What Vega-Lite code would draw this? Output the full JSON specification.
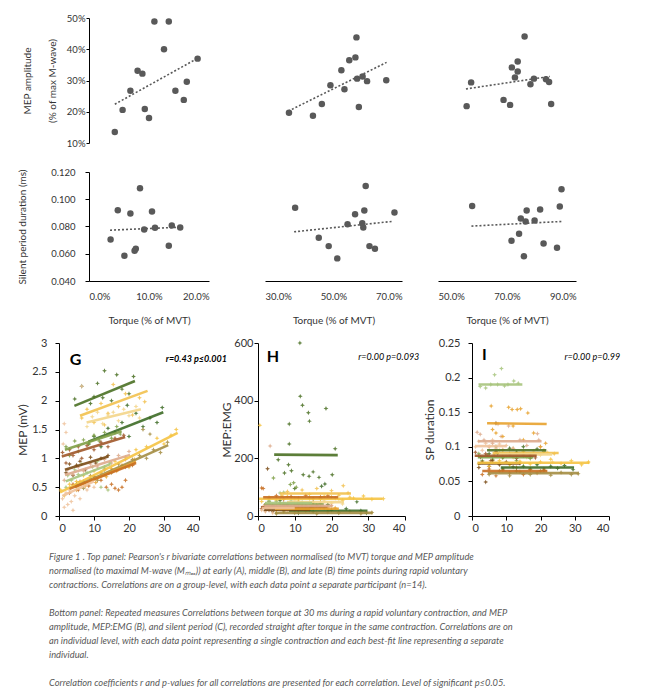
{
"$schema":"https://vega.github.io/schema/vega-lite/v6.json",
"background":"white",
"padding":{"left":10,"top":13,"right":5,"bottom":5},
"datasets":{
"notes":[
{"p":"G","k":"L","t":"G","x":3.1,"y":2.705},{"p":"G","k":"R","t":"r=0.43 p≤0.001","x":48,"y":2.73},
{"p":"H","k":"L","t":"H","x":2.4,"y":551},{"p":"H","k":"R","t":"r=0.00 p=0.093","x":43.9,"y":551},
{"p":"I","k":"L","t":"I","x":2.9,"y":0.2327},{"p":"I","k":"R","t":"r=0.00 p=0.99","x":43.3,"y":0.2298}
],
"top":[
{"p":"A","x":0.043,"y":0.135},{"p":"A","x":0.056,"y":0.206},{"p":"A","x":0.069,"y":0.267},{"p":"A","x":0.081,"y":0.331},{"p":"A","x":0.089,"y":0.322},{"p":"A","x":0.093,"y":0.209},{"p":"A","x":0.100,"y":0.180},{"p":"A","x":0.109,"y":0.489},{"p":"A","x":0.125,"y":0.400},{"p":"A","x":0.133,"y":0.489},{"p":"A","x":0.144,"y":0.267},{"p":"A","x":0.158,"y":0.238},{"p":"A","x":0.163,"y":0.296},{"p":"A","x":0.181,"y":0.370},
{"p":"B","x":0.370,"y":0.197},{"p":"B","x":0.440,"y":0.187},{"p":"B","x":0.466,"y":0.225},{"p":"B","x":0.491,"y":0.285},{"p":"B","x":0.523,"y":0.333},{"p":"B","x":0.532,"y":0.272},{"p":"B","x":0.546,"y":0.365},{"p":"B","x":0.564,"y":0.374},{"p":"B","x":0.567,"y":0.438},{"p":"B","x":0.569,"y":0.306},{"p":"B","x":0.574,"y":0.215},{"p":"B","x":0.585,"y":0.313},{"p":"B","x":0.598,"y":0.298},{"p":"B","x":0.654,"y":0.301},
{"p":"C","x":0.583,"y":0.218},{"p":"C","x":0.596,"y":0.294},{"p":"C","x":0.690,"y":0.238},{"p":"C","x":0.709,"y":0.222},{"p":"C","x":0.714,"y":0.342},{"p":"C","x":0.723,"y":0.310},{"p":"C","x":0.731,"y":0.361},{"p":"C","x":0.731,"y":0.329},{"p":"C","x":0.751,"y":0.441},{"p":"C","x":0.768,"y":0.288},{"p":"C","x":0.778,"y":0.306},{"p":"C","x":0.813,"y":0.304},{"p":"C","x":0.822,"y":0.295},{"p":"C","x":0.828,"y":0.225},
{"p":"D","x":0.036,"y":0.0705},{"p":"D","x":0.048,"y":0.0920},{"p":"D","x":0.059,"y":0.0585},{"p":"D","x":0.069,"y":0.0895},{"p":"D","x":0.076,"y":0.0622},{"p":"D","x":0.078,"y":0.0636},{"p":"D","x":0.085,"y":0.1081},{"p":"D","x":0.092,"y":0.0778},{"p":"D","x":0.105,"y":0.0910},{"p":"D","x":0.110,"y":0.0790},{"p":"D","x":0.133,"y":0.0658},{"p":"D","x":0.138,"y":0.0808},{"p":"D","x":0.152,"y":0.0793},
{"p":"E","x":0.388,"y":0.0937},{"p":"E","x":0.457,"y":0.0717},{"p":"E","x":0.486,"y":0.0656},{"p":"E","x":0.511,"y":0.0566},{"p":"E","x":0.541,"y":0.0817},{"p":"E","x":0.563,"y":0.0890},{"p":"E","x":0.584,"y":0.0824},{"p":"E","x":0.587,"y":0.0793},{"p":"E","x":0.590,"y":0.0917},{"p":"E","x":0.594,"y":0.1098},{"p":"E","x":0.605,"y":0.0656},{"p":"E","x":0.621,"y":0.0636},{"p":"E","x":0.678,"y":0.0903},
{"p":"F","x":0.599,"y":0.0951},{"p":"F","x":0.713,"y":0.0695},{"p":"F","x":0.735,"y":0.0746},{"p":"F","x":0.740,"y":0.0859},{"p":"F","x":0.749,"y":0.0581},{"p":"F","x":0.754,"y":0.0837},{"p":"F","x":0.757,"y":0.0917},{"p":"F","x":0.780,"y":0.0844},{"p":"F","x":0.796,"y":0.0925},{"p":"F","x":0.806,"y":0.0676},{"p":"F","x":0.845,"y":0.0644},{"p":"F","x":0.853,"y":0.0947},{"p":"F","x":0.858,"y":0.1073}
],
"trend":[
{"p":"A","x":0.043,"y":0.224,"x2":0.181,"y2":0.371},
{"p":"B","x":0.368,"y":0.202,"x2":0.655,"y2":0.358},
{"p":"C","x":0.581,"y":0.273,"x2":0.824,"y2":0.313},
{"p":"D","x":0.035,"y":0.0773,"x2":0.152,"y2":0.0795},
{"p":"E","x":0.385,"y":0.0761,"x2":0.670,"y2":0.0837},
{"p":"F","x":0.597,"y":0.0803,"x2":0.860,"y2":0.0837}
],
"G":[
{"i":1,"x":4.5,"y":2.03},{"i":1,"x":6.5,"y":2.25},{"i":1,"x":9,"y":1.95},{"i":1,"x":11,"y":2.3},{"i":1,"x":12.5,"y":2.05},{"i":1,"x":13,"y":2.52},{"i":1,"x":15,"y":2.0},{"i":1,"x":16.5,"y":2.45},{"i":1,"x":18,"y":2.2},{"i":1,"x":20,"y":2.12},{"i":1,"x":21.3,"y":2.42},{"i":1,"x":10,"y":2.07},
{"i":2,"x":6.5,"y":1.7},{"i":2,"x":8,"y":1.85},{"i":2,"x":10,"y":1.62},{"i":2,"x":12,"y":1.95},{"i":2,"x":14,"y":1.78},{"i":2,"x":15.5,"y":2.28},{"i":2,"x":17,"y":1.9},{"i":2,"x":19,"y":2.12},{"i":2,"x":21,"y":1.75},{"i":2,"x":23,"y":2.05},{"i":2,"x":24.5,"y":1.98},{"i":2,"x":13,"y":1.58},
{"i":3,"x":8,"y":1.55},{"i":3,"x":9.5,"y":1.72},{"i":3,"x":11,"y":1.8},{"i":3,"x":12.5,"y":1.6},{"i":3,"x":14,"y":1.75},{"i":3,"x":15.5,"y":1.8},{"i":3,"x":17,"y":1.65},{"i":3,"x":18.5,"y":1.85},{"i":3,"x":20,"y":1.74},{"i":3,"x":22,"y":1.9},{"i":3,"x":23,"y":1.7},
{"i":4,"x":8.5,"y":1.25},{"i":4,"x":10,"y":1.38},{"i":4,"x":12,"y":1.2},{"i":4,"x":14,"y":1.52},{"i":4,"x":16,"y":1.45},{"i":4,"x":18,"y":1.62},{"i":4,"x":20,"y":1.38},{"i":4,"x":22,"y":1.78},{"i":4,"x":24,"y":1.55},{"i":4,"x":26,"y":1.7},{"i":4,"x":28,"y":1.62},{"i":4,"x":29.5,"y":1.88},{"i":4,"x":19.5,"y":1.92},
{"i":5,"x":2,"y":1.2},{"i":5,"x":3,"y":1.05},{"i":5,"x":4.5,"y":1.3},{"i":5,"x":5.5,"y":1.12},{"i":5,"x":7,"y":1.32},{"i":5,"x":8.5,"y":1.25},{"i":5,"x":10,"y":1.4},{"i":5,"x":11.5,"y":1.3},{"i":5,"x":13,"y":1.45},{"i":5,"x":15,"y":1.35},{"i":5,"x":16.5,"y":1.55},{"i":5,"x":17.5,"y":1.42},
{"i":6,"x":1,"y":1.1},{"i":6,"x":2,"y":0.92},{"i":6,"x":3,"y":1.15},{"i":6,"x":4,"y":1.05},{"i":6,"x":5.5,"y":1.2},{"i":6,"x":6.5,"y":1.0},{"i":6,"x":8,"y":1.22},{"i":6,"x":10,"y":1.15},{"i":6,"x":12,"y":1.28},{"i":6,"x":14,"y":1.2},{"i":6,"x":16,"y":1.35},{"i":6,"x":18.5,"y":1.4},
{"i":7,"x":2,"y":0.75},{"i":7,"x":3,"y":0.9},{"i":7,"x":4,"y":0.7},{"i":7,"x":5,"y":0.88},{"i":7,"x":6,"y":0.95},{"i":7,"x":7.5,"y":0.8},{"i":7,"x":9,"y":1.02},{"i":7,"x":10.5,"y":0.92},{"i":7,"x":12,"y":1.0},{"i":7,"x":14,"y":1.05},
{"i":8,"x":1.5,"y":0.62},{"i":8,"x":2.5,"y":0.8},{"i":8,"x":4,"y":0.72},{"i":8,"x":5.5,"y":0.85},{"i":8,"x":7,"y":0.78},{"i":8,"x":9,"y":0.9},{"i":8,"x":11,"y":0.85},{"i":8,"x":13,"y":0.98},{"i":8,"x":15,"y":0.92},{"i":8,"x":17,"y":1.05},{"i":8,"x":19,"y":0.98},{"i":8,"x":20,"y":1.12},
{"i":9,"x":0.5,"y":0.45},{"i":9,"x":1.5,"y":0.35},{"i":9,"x":3,"y":0.55},{"i":9,"x":5,"y":0.6},{"i":9,"x":7,"y":0.7},{"i":9,"x":10,"y":0.78},{"i":9,"x":13,"y":0.85},{"i":9,"x":16,"y":0.95},{"i":9,"x":19,"y":1.02},{"i":9,"x":22,"y":1.15},{"i":9,"x":25,"y":1.2},{"i":9,"x":28,"y":1.35},{"i":9,"x":30,"y":1.25},{"i":9,"x":32,"y":1.4},{"i":9,"x":33.5,"y":1.5},
{"i":10,"x":5,"y":0.55},{"i":10,"x":7,"y":0.48},{"i":10,"x":9,"y":0.7},{"i":10,"x":11,"y":0.62},{"i":10,"x":13,"y":0.8},{"i":10,"x":15,"y":0.75},{"i":10,"x":17,"y":0.9},{"i":10,"x":19,"y":0.85},{"i":10,"x":21,"y":0.98},{"i":10,"x":23,"y":1.05},{"i":10,"x":25,"y":1.0},{"i":10,"x":27,"y":1.15},{"i":10,"x":29,"y":1.1},{"i":10,"x":31,"y":1.28},{"i":10,"x":26,"y":1.42},{"i":10,"x":24,"y":1.5},
{"i":11,"x":5,"y":0.45},{"i":11,"x":6,"y":0.6},{"i":11,"x":7.5,"y":0.52},{"i":11,"x":9,"y":0.65},{"i":11,"x":10.5,"y":0.58},{"i":11,"x":12,"y":0.75},{"i":11,"x":13.5,"y":0.68},{"i":11,"x":15,"y":0.82},{"i":11,"x":16.5,"y":0.78},{"i":11,"x":18,"y":0.88},{"i":11,"x":20,"y":0.85},{"i":11,"x":21.5,"y":0.98},
{"i":12,"x":3,"y":0.4},{"i":12,"x":4,"y":0.55},{"i":12,"x":5.5,"y":0.45},{"i":12,"x":7,"y":0.6},{"i":12,"x":8.5,"y":0.52},{"i":12,"x":10,"y":0.68},{"i":12,"x":12,"y":0.62},{"i":12,"x":13.5,"y":0.5},{"i":12,"x":15,"y":0.55},{"i":12,"x":16,"y":0.48},{"i":12,"x":17,"y":0.45},{"i":12,"x":18,"y":0.5},{"i":12,"x":19,"y":0.62},{"i":12,"x":21,"y":0.88},
{"i":13,"x":2,"y":0.5},{"i":13,"x":2.5,"y":0.7},{"i":13,"x":3.5,"y":0.62},{"i":13,"x":4.5,"y":0.8},{"i":13,"x":5.5,"y":0.72},{"i":13,"x":6.5,"y":0.9},{"i":13,"x":8,"y":0.75},{"i":13,"x":9.5,"y":0.85},{"i":13,"x":11,"y":0.95},{"i":13,"x":13,"y":0.82},{"i":13,"x":14.5,"y":0.92},{"i":13,"x":12,"y":0.5},{"i":13,"x":14,"y":0.45},
{"i":14,"x":1,"y":0.3},{"i":14,"x":1.5,"y":0.15},{"i":14,"x":2,"y":0.4},{"i":14,"x":2.5,"y":0.2},{"i":14,"x":3,"y":0.45},{"i":14,"x":3.5,"y":0.25},{"i":14,"x":4,"y":0.1},{"i":14,"x":4.5,"y":0.35},{"i":14,"x":5,"y":0.5},{"i":14,"x":6,"y":0.3},{"i":14,"x":7,"y":0.55},{"i":14,"x":8,"y":0.45},{"i":14,"x":9,"y":0.62},{"i":14,"x":10,"y":0.5},{"i":14,"x":1.2,"y":1.25},{"i":14,"x":2,"y":1.45},{"i":14,"x":1.5,"y":1.6},{"i":14,"x":6.5,"y":2.25}
],
"LG":[
{"i":1,"x":4.4,"y":1.91,"x2":21.7,"y2":2.34},
{"i":2,"x":6.0,"y":1.74,"x2":25.3,"y2":2.17},
{"i":3,"x":7.9,"y":1.62,"x2":23.4,"y2":1.85},
{"i":4,"x":8.4,"y":1.29,"x2":29.8,"y2":1.80},
{"i":5,"x":1.7,"y":1.15,"x2":17.9,"y2":1.47},
{"i":6,"x":0.8,"y":1.03,"x2":18.9,"y2":1.37},
{"i":7,"x":1.7,"y":0.80,"x2":14.1,"y2":1.03},
{"i":8,"x":1.7,"y":0.71,"x2":20.3,"y2":1.06},
{"i":9,"x":0.3,"y":0.41,"x2":33.9,"y2":1.44},
{"i":10,"x":4.6,"y":0.51,"x2":31.2,"y2":1.23},
{"i":11,"x":4.6,"y":0.50,"x2":22.0,"y2":0.94},
{"i":12,"x":3.0,"y":0.47,"x2":22.0,"y2":0.92},
{"i":13,"x":1.9,"y":0.60,"x2":14.7,"y2":0.90},
{"i":14,"x":1.0,"y":0.35,"x2":10.0,"y2":0.60}
],
"H":[
{"i":1,"x":5.5,"y":195},{"i":1,"x":8.3,"y":178},{"i":1,"x":8.5,"y":250},{"i":1,"x":8.5,"y":319},{"i":1,"x":11.4,"y":600},{"i":1,"x":11.5,"y":415},{"i":1,"x":12.1,"y":384},{"i":1,"x":13.7,"y":358},{"i":1,"x":14,"y":329},{"i":1,"x":18.5,"y":373},{"i":1,"x":21,"y":233},{"i":1,"x":12.3,"y":143},{"i":1,"x":15,"y":153},{"i":1,"x":16.6,"y":134},{"i":1,"x":20.2,"y":143},{"i":1,"x":9.1,"y":157},{"i":1,"x":13.9,"y":138},{"i":1,"x":7.2,"y":149},{"i":1,"x":10,"y":95},{"i":1,"x":17,"y":60},{"i":1,"x":19,"y":40},{"i":1,"x":6,"y":55},{"i":1,"x":14.5,"y":30},{"i":1,"x":11,"y":45},
{"i":2,"x":6.5,"y":70},{"i":2,"x":8,"y":85},{"i":2,"x":10,"y":62},{"i":2,"x":12,"y":90},{"i":2,"x":14,"y":75},{"i":2,"x":16,"y":95},{"i":2,"x":18,"y":68},{"i":2,"x":20,"y":88},{"i":2,"x":22,"y":72},{"i":2,"x":23.2,"y":105},{"i":2,"x":24.5,"y":80},{"i":2,"x":25,"y":65},
{"i":3,"x":8,"y":40},{"i":3,"x":10,"y":55},{"i":3,"x":12,"y":45},{"i":3,"x":14,"y":60},{"i":3,"x":16,"y":38},{"i":3,"x":18,"y":52},{"i":3,"x":20,"y":44},{"i":3,"x":22,"y":58},{"i":3,"x":23,"y":42},
{"i":4,"x":9,"y":25},{"i":4,"x":11,"y":10},{"i":4,"x":13,"y":22},{"i":4,"x":15,"y":15},{"i":4,"x":17.3,"y":103},{"i":4,"x":18.2,"y":111},{"i":4,"x":20,"y":20},{"i":4,"x":22,"y":12},{"i":4,"x":24,"y":25},{"i":4,"x":26.9,"y":49},{"i":4,"x":28,"y":18},{"i":4,"x":29.5,"y":10},
{"i":5,"x":2,"y":35},{"i":5,"x":3,"y":50},{"i":5,"x":4.2,"y":132},{"i":5,"x":5,"y":30},{"i":5,"x":6,"y":45},{"i":5,"x":7,"y":38},{"i":5,"x":8.8,"y":109},{"i":5,"x":9.7,"y":115},{"i":5,"x":10.4,"y":100},{"i":5,"x":11,"y":42},{"i":5,"x":13,"y":35},{"i":5,"x":15,"y":48},{"i":5,"x":17,"y":30},
{"i":6,"x":1,"y":25},{"i":6,"x":2,"y":40},{"i":6,"x":3,"y":20},{"i":6,"x":4,"y":35},{"i":6,"x":6,"y":28},{"i":6,"x":8,"y":38},{"i":6,"x":10,"y":22},{"i":6,"x":12,"y":34},{"i":6,"x":14,"y":26},{"i":6,"x":16,"y":36},{"i":6,"x":18,"y":28},
{"i":7,"x":2,"y":18},{"i":7,"x":2.6,"y":164},{"i":7,"x":3,"y":30},{"i":7,"x":4,"y":15},{"i":7,"x":5,"y":25},{"i":7,"x":7,"y":20},{"i":7,"x":9,"y":28},{"i":7,"x":11,"y":18},{"i":7,"x":13,"y":24},{"i":7,"x":14,"y":20},
{"i":8,"x":1.5,"y":30},{"i":8,"x":3,"y":42},{"i":8,"x":3.3,"y":243},{"i":8,"x":5,"y":28},{"i":8,"x":7,"y":45},{"i":8,"x":9,"y":32},{"i":8,"x":11,"y":40},{"i":8,"x":13,"y":30},{"i":8,"x":15,"y":38},{"i":8,"x":17,"y":44},{"i":8,"x":19,"y":30},{"i":8,"x":20,"y":36},
{"i":9,"x":0.5,"y":315},{"i":9,"x":1,"y":50},{"i":9,"x":3,"y":65},{"i":9,"x":5,"y":55},{"i":9,"x":8,"y":68},{"i":9,"x":11,"y":52},{"i":9,"x":14,"y":62},{"i":9,"x":17,"y":58},{"i":9,"x":20,"y":66},{"i":9,"x":23,"y":55},{"i":9,"x":26,"y":62},{"i":9,"x":28.7,"y":69},{"i":9,"x":31,"y":58},{"i":9,"x":34.1,"y":60},
{"i":10,"x":5,"y":8},{"i":10,"x":7,"y":15},{"i":10,"x":10,"y":10},{"i":10,"x":13,"y":18},{"i":10,"x":16,"y":8},{"i":10,"x":19,"y":14},{"i":10,"x":22,"y":10},{"i":10,"x":25,"y":16},{"i":10,"x":28,"y":8},{"i":10,"x":31,"y":12},
{"i":11,"x":5,"y":20},{"i":11,"x":7,"y":30},{"i":11,"x":9,"y":22},{"i":11,"x":11,"y":28},{"i":11,"x":13,"y":18},{"i":11,"x":15,"y":26},{"i":11,"x":17,"y":32},{"i":11,"x":19,"y":22},{"i":11,"x":21,"y":28},
{"i":12,"x":1,"y":97},{"i":12,"x":1.4,"y":95},{"i":12,"x":3,"y":60},{"i":12,"x":5,"y":70},{"i":12,"x":7,"y":58},{"i":12,"x":9,"y":68},{"i":12,"x":11,"y":62},{"i":12,"x":13,"y":72},{"i":12,"x":15,"y":60},{"i":12,"x":17,"y":66},{"i":12,"x":19,"y":70},{"i":12,"x":21,"y":62},
{"i":13,"x":2,"y":40},{"i":13,"x":3,"y":55},{"i":13,"x":4,"y":35},{"i":13,"x":5,"y":50},{"i":13,"x":6,"y":80},{"i":13,"x":7,"y":82},{"i":13,"x":8,"y":42},{"i":13,"x":9,"y":52},{"i":13,"x":10,"y":38},{"i":13,"x":12,"y":48},{"i":13,"x":14,"y":44},
{"i":14,"x":1,"y":20},{"i":14,"x":1.5,"y":35},{"i":14,"x":2,"y":15},{"i":14,"x":2.5,"y":40},{"i":14,"x":3,"y":25},{"i":14,"x":4,"y":10},{"i":14,"x":5,"y":30},{"i":14,"x":6,"y":22},{"i":14,"x":7,"y":35},{"i":14,"x":8,"y":18},{"i":14,"x":9,"y":30},{"i":14,"x":10,"y":25}
],
"LH":[
{"i":1,"x":4.4,"y":213,"x2":21.7,"y2":211},
{"i":2,"x":6.0,"y":78,"x2":25.3,"y2":78},
{"i":3,"x":7.9,"y":48,"x2":23.4,"y2":48},
{"i":4,"x":8.4,"y":18,"x2":29.8,"y2":18},
{"i":5,"x":1.7,"y":40,"x2":17.9,"y2":40},
{"i":6,"x":0.8,"y":30,"x2":18.9,"y2":30},
{"i":7,"x":1.7,"y":22,"x2":14.1,"y2":22},
{"i":8,"x":1.7,"y":35,"x2":20.3,"y2":35},
{"i":9,"x":0.3,"y":60,"x2":33.9,"y2":60},
{"i":10,"x":4.6,"y":11,"x2":31.2,"y2":11},
{"i":11,"x":4.6,"y":25,"x2":22.0,"y2":25},
{"i":12,"x":1.4,"y":65,"x2":21.8,"y2":65},
{"i":13,"x":1.9,"y":45,"x2":14.7,"y2":45},
{"i":14,"x":1.0,"y":28,"x2":10.0,"y2":28}
],
"I":[
{"i":1,"x":5,"y":0.09},{"i":1,"x":7,"y":0.1},{"i":1,"x":9,"y":0.085},{"i":1,"x":11,"y":0.098},{"i":1,"x":13,"y":0.092},{"i":1,"x":15,"y":0.1},{"i":1,"x":17,"y":0.088},{"i":1,"x":19,"y":0.097},{"i":1,"x":21,"y":0.093},
{"i":2,"x":6.5,"y":0.088},{"i":2,"x":9,"y":0.095},{"i":2,"x":12,"y":0.085},{"i":2,"x":15,"y":0.093},{"i":2,"x":18,"y":0.089},{"i":2,"x":21,"y":0.095},{"i":2,"x":24,"y":0.09},
{"i":3,"x":8,"y":0.095},{"i":3,"x":10,"y":0.087},{"i":3,"x":12,"y":0.098},{"i":3,"x":14,"y":0.09},{"i":3,"x":16,"y":0.085},{"i":3,"x":18,"y":0.094},{"i":3,"x":20,"y":0.088},{"i":3,"x":22,"y":0.092},{"i":3,"x":23.5,"y":0.078},
{"i":4,"x":9,"y":0.068},{"i":4,"x":11,"y":0.075},{"i":4,"x":13,"y":0.065},{"i":4,"x":15,"y":0.072},{"i":4,"x":17,"y":0.068},{"i":4,"x":19,"y":0.074},{"i":4,"x":21,"y":0.066},{"i":4,"x":23,"y":0.072},{"i":4,"x":25,"y":0.069},{"i":4,"x":27,"y":0.073},{"i":4,"x":29.5,"y":0.067},
{"i":5,"x":2,"y":0.09},{"i":5,"x":3,"y":0.08},{"i":5,"x":4.5,"y":0.088},{"i":5,"x":6,"y":0.082},{"i":5,"x":7.5,"y":0.09},{"i":5,"x":9,"y":0.084},{"i":5,"x":11,"y":0.088},{"i":5,"x":13,"y":0.08},{"i":5,"x":15,"y":0.087},{"i":5,"x":17,"y":0.083},
{"i":6,"x":1,"y":0.092},{"i":6,"x":2.5,"y":0.085},{"i":6,"x":4,"y":0.09},{"i":6,"x":5.5,"y":0.08},{"i":6,"x":7,"y":0.093},{"i":6,"x":9,"y":0.086},{"i":6,"x":11,"y":0.09},{"i":6,"x":13,"y":0.083},{"i":6,"x":15,"y":0.089},{"i":6,"x":17,"y":0.086},{"i":6,"x":18.5,"y":0.084},
{"i":7,"x":2,"y":0.07},{"i":7,"x":3,"y":0.078},{"i":7,"x":4,"y":0.049},{"i":7,"x":5,"y":0.072},{"i":7,"x":6,"y":0.08},{"i":7,"x":7,"y":0.134},{"i":7,"x":8,"y":0.074},{"i":7,"x":10,"y":0.078},{"i":7,"x":12,"y":0.071},{"i":7,"x":14,"y":0.076},
{"i":8,"x":1.5,"y":0.121},{"i":8,"x":2.4,"y":0.118},{"i":8,"x":3.5,"y":0.11},{"i":8,"x":5,"y":0.1},{"i":8,"x":6,"y":0.105},{"i":8,"x":7.6,"y":0.133},{"i":8,"x":8.5,"y":0.115},{"i":8,"x":10.7,"y":0.13},{"i":8,"x":12,"y":0.098},{"i":8,"x":14,"y":0.11},{"i":8,"x":16,"y":0.102},{"i":8,"x":19.1,"y":0.119},{"i":8,"x":19.5,"y":0.11},{"i":8,"x":20,"y":0.1},
{"i":9,"x":2,"y":0.075},{"i":9,"x":5,"y":0.072},{"i":9,"x":8,"y":0.08},{"i":9,"x":11,"y":0.074},{"i":9,"x":14,"y":0.079},{"i":9,"x":17,"y":0.075},{"i":9,"x":20,"y":0.078},{"i":9,"x":23,"y":0.082},{"i":9,"x":26,"y":0.076},{"i":9,"x":29,"y":0.08},{"i":9,"x":32,"y":0.074},{"i":9,"x":34,"y":0.078},
{"i":10,"x":5,"y":0.06},{"i":10,"x":8,"y":0.065},{"i":10,"x":11,"y":0.058},{"i":10,"x":14,"y":0.064},{"i":10,"x":17,"y":0.06},{"i":10,"x":20,"y":0.065},{"i":10,"x":23,"y":0.059},{"i":10,"x":26,"y":0.063},{"i":10,"x":29,"y":0.06},{"i":10,"x":31,"y":0.061},
{"i":11,"x":5.6,"y":0.159},{"i":11,"x":10.7,"y":0.157},{"i":11,"x":11.7,"y":0.154},{"i":11,"x":13.2,"y":0.154},{"i":11,"x":14.2,"y":0.155},{"i":11,"x":16.3,"y":0.149},{"i":11,"x":7,"y":0.12},{"i":11,"x":9,"y":0.115},{"i":11,"x":12,"y":0.13},{"i":11,"x":15,"y":0.11},{"i":11,"x":18,"y":0.12},{"i":11,"x":20,"y":0.1},{"i":11,"x":21.5,"y":0.105},{"i":11,"x":6,"y":0.125},
{"i":12,"x":3,"y":0.06},{"i":12,"x":5,"y":0.068},{"i":12,"x":7,"y":0.058},{"i":12,"x":9,"y":0.066},{"i":12,"x":11,"y":0.062},{"i":12,"x":13,"y":0.07},{"i":12,"x":15,"y":0.06},{"i":12,"x":17,"y":0.067},{"i":12,"x":19,"y":0.062},{"i":12,"x":21,"y":0.068},
{"i":13,"x":2.4,"y":0.187},{"i":13,"x":5.5,"y":0.19},{"i":13,"x":6.6,"y":0.204},{"i":13,"x":7.5,"y":0.19},{"i":13,"x":8.6,"y":0.213},{"i":13,"x":9.5,"y":0.188},{"i":13,"x":10.5,"y":0.19},{"i":13,"x":12.2,"y":0.195},{"i":13,"x":13.5,"y":0.192},{"i":13,"x":4,"y":0.185},
{"i":14,"x":1,"y":0.1},{"i":14,"x":2,"y":0.108},{"i":14,"x":3,"y":0.095},{"i":14,"x":4,"y":0.105},{"i":14,"x":5,"y":0.1},{"i":14,"x":6,"y":0.11},{"i":14,"x":7,"y":0.098},{"i":14,"x":8,"y":0.104},{"i":14,"x":9,"y":0.096},{"i":14,"x":10,"y":0.102}
],
"LI":[
{"i":1,"x":4.4,"y":0.095,"x2":21.7,"y2":0.095},
{"i":2,"x":6.0,"y":0.091,"x2":25.3,"y2":0.091},
{"i":3,"x":7.9,"y":0.089,"x2":23.4,"y2":0.089},
{"i":4,"x":8.4,"y":0.070,"x2":29.8,"y2":0.070},
{"i":5,"x":1.7,"y":0.085,"x2":17.9,"y2":0.085},
{"i":6,"x":0.8,"y":0.087,"x2":18.9,"y2":0.087},
{"i":7,"x":1.7,"y":0.076,"x2":14.1,"y2":0.076},
{"i":8,"x":1.7,"y":0.108,"x2":20.3,"y2":0.108},
{"i":9,"x":1.6,"y":0.077,"x2":34.3,"y2":0.077},
{"i":10,"x":4.6,"y":0.062,"x2":31.2,"y2":0.062},
{"i":11,"x":4.4,"y":0.134,"x2":21.8,"y2":0.133},
{"i":12,"x":3.0,"y":0.065,"x2":22.0,"y2":0.065},
{"i":13,"x":1.9,"y":0.190,"x2":14.7,"y2":0.190},
{"i":14,"x":1.0,"y":0.101,"x2":10.0,"y2":0.101}
]
},
"title":{
"text":["Figure 1 . Top panel: Pearson's r bivariate correlations between normalised (to MVT) torque and MEP amplitude","normalised (to maximal M-wave (Mₘₐₓ)) at early (A), middle (B), and late (B) time points during rapid voluntary","contractions. Correlations are on a group-level, with each data point a separate participant (n=14).","\u2800","Bottom panel: Repeated measures Correlations between torque at 30 ms during a rapid voluntary  contraction, and MEP","amplitude, MEP:EMG (B), and silent period (C), recorded straight after torque in the same contraction. Correlations are on","an individual level, with each data point representing a single contraction and each best-fit line representing a separate","individual.","\u2800","Correlation coefficients r and p-values for all correlations are presented for each correlation. Level of significant p≤0.05."],
"orient":"bottom","anchor":"start","frame":"bounds","dx":39,"offset":20,"baseline":"top",
"font":"Lato","fontSize":9.3,"fontStyle":"italic","fontWeight":"normal","color":"#595959","lineHeight":14
},
"spacing":11,
"vconcat":[
{"spacing":19,
 "vconcat":[
 {"spacing":0,"bounds":"flush",
  "hconcat":[
 {"width":79,"height":125,"data":{"values":[{}]},"mark":{"type":"point","size":0,"opacity":0},"encoding":{}},
 {"width":120,"height":125,
  "encoding":{"x":{"field":"x","type":"quantitative","scale":{"domain":[0,0.2]},"axis":null},
              "y":{"field":"y","type":"quantitative","scale":{"domain":[0.1,0.5]},"title":["MEP amplitude","(% of max M-wave)"],"axis":{"values":[0.1,0.2,0.3,0.4,0.5],"format":".0%","titleLineHeight":25,"titlePadding":9,"tickSize":3,"labelPadding":1}}},
  "layer":[
   {"data":{"name":"top"},"transform":[{"filter":"datum.p=='A'"}],"mark":{"type":"circle","size":42,"color":"#595959","opacity":1}},
   {"data":{"name":"trend"},"transform":[{"filter":"datum.p=='A'"}],"mark":{"type":"rule","color":"#595959","strokeWidth":1.6,"strokeDash":[2,2]},"encoding":{"x2":{"field":"x2"},"y2":{"field":"y2"}}},
   {"data":{"values":[{}]},"mark":{"type":"text","font":"Lato","fontSize":15,"fontWeight":"bold","align":"left","baseline":"middle","color":"#000"},"encoding":{"x":{"datum":0.026,"type":"quantitative"},"y":{"datum":0.455,"type":"quantitative","title":["MEP amplitude","(% of max M-wave)"]},"text":{"value":"A"}}},
   {"data":{"values":[{}]},"mark":{"type":"text","font":"Lato","fontSize":10,"fontStyle":"italic","align":"right","baseline":"middle","color":"#333"},"encoding":{"x":{"datum":0.199,"type":"quantitative"},"y":{"datum":0.10,"type":"quantitative","title":["MEP amplitude","(% of max M-wave)"]},"text":{"value":"r = 0.43 p = 0.12"}}}
  ]},
 {"width":56,"height":125,"data":{"values":[{}]},"mark":{"type":"point","size":0,"opacity":0},"encoding":{}},
 {"width":137,"height":125,
  "encoding":{"x":{"field":"x","type":"quantitative","scale":{"domain":[0.3,0.7]},"axis":null},
              "y":{"field":"y","type":"quantitative","scale":{"domain":[0.1,0.5]},"axis":null}},
  "layer":[
   {"data":{"name":"top"},"transform":[{"filter":"datum.p=='B'"}],"mark":{"type":"circle","size":42,"color":"#595959","opacity":1}},
   {"data":{"name":"trend"},"transform":[{"filter":"datum.p=='B'"}],"mark":{"type":"rule","color":"#595959","strokeWidth":1.6,"strokeDash":[2,2]},"encoding":{"x2":{"field":"x2"},"y2":{"field":"y2"}}},
   {"data":{"values":[{}]},"mark":{"type":"text","font":"Lato","fontSize":15,"fontWeight":"bold","align":"left","baseline":"middle","color":"#000"},"encoding":{"x":{"datum":0.306,"type":"quantitative","axis":null},"y":{"datum":0.455,"type":"quantitative","axis":null},"text":{"value":"B"}}}
  ]},
 {"width":36,"height":125,"data":{"values":[{}]},"mark":{"type":"point","size":0,"opacity":0},"encoding":{}},
 {"width":138,"height":125,
  "encoding":{"x":{"field":"x","type":"quantitative","scale":{"domain":[0.5,0.9]},"axis":null},
              "y":{"field":"y","type":"quantitative","scale":{"domain":[0.1,0.5]},"axis":null}},
  "layer":[
   {"data":{"name":"top"},"transform":[{"filter":"datum.p=='C'"}],"mark":{"type":"circle","size":42,"color":"#595959","opacity":1}},
   {"data":{"name":"trend"},"transform":[{"filter":"datum.p=='C'"}],"mark":{"type":"rule","color":"#595959","strokeWidth":1.6,"strokeDash":[2,2]},"encoding":{"x2":{"field":"x2"},"y2":{"field":"y2"}}},
   {"data":{"values":[{}]},"mark":{"type":"text","font":"Lato","fontSize":15,"fontWeight":"bold","align":"left","baseline":"middle","color":"#000"},"encoding":{"x":{"datum":0.491,"type":"quantitative","axis":null},"y":{"datum":0.455,"type":"quantitative","axis":null},"text":{"value":"C"}}},
   {"data":{"values":[{}]},"mark":{"type":"text","font":"Lato","fontSize":10,"fontStyle":"italic","align":"right","baseline":"middle","color":"#333"},"encoding":{"x":{"datum":0.855,"type":"quantitative","axis":null},"y":{"datum":0.10,"type":"quantitative","axis":null},"text":{"value":"r = 0.21 p = 0.48"}}}
  ]}
 ]},
 {"spacing":0,"bounds":"flush",
  "hconcat":[
 {"width":79,"height":109,"data":{"values":[{}]},"mark":{"type":"point","size":0,"opacity":0},"encoding":{}},
 {"width":120,"height":109,
  "encoding":{"x":{"field":"x","type":"quantitative","scale":{"domain":[0,0.2]},"title":"Torque (% of MVT)","axis":{"values":[0,0.1,0.2],"format":".1%","ticks":false,"labelPadding":10,"titlePadding":15}},
              "y":{"field":"y","type":"quantitative","scale":{"domain":[0.04,0.12]},"title":"Silent period duration (ms)","axis":{"values":[0.04,0.06,0.08,0.10,0.12],"format":".3f","labelPadding":10,"titlePadding":23}}},
  "layer":[
   {"data":{"name":"top"},"transform":[{"filter":"datum.p=='D'"}],"mark":{"type":"circle","size":42,"color":"#595959","opacity":1}},
   {"data":{"name":"trend"},"transform":[{"filter":"datum.p=='D'"}],"mark":{"type":"rule","color":"#595959","strokeWidth":1.6,"strokeDash":[2,2]},"encoding":{"x2":{"field":"x2"},"y2":{"field":"y2"}}},
   {"data":{"values":[{}]},"mark":{"type":"text","font":"Lato","fontSize":15,"fontWeight":"bold","align":"left","baseline":"middle","color":"#000"},"encoding":{"x":{"datum":0.028,"type":"quantitative","title":"Torque (% of MVT)"},"y":{"datum":0.1169,"type":"quantitative","title":"Silent period duration (ms)"},"text":{"value":"D"}}},
   {"data":{"values":[{}]},"mark":{"type":"text","font":"Lato","fontSize":10,"fontStyle":"italic","align":"right","baseline":"middle","color":"#333"},"encoding":{"x":{"datum":0.197,"type":"quantitative","title":"Torque (% of MVT)"},"y":{"datum":0.0466,"type":"quantitative","title":"Silent period duration (ms)"},"text":{"value":"r = 0.04 p = 0.90"}}}
  ]},
 {"width":56,"height":109,"data":{"values":[{}]},"mark":{"type":"point","size":0,"opacity":0},"encoding":{}},
 {"width":137,"height":109,
  "encoding":{"x":{"field":"x","type":"quantitative","scale":{"domain":[0.3,0.7]},"title":"Torque (% of MVT)","axis":{"values":[0.3,0.5,0.7],"format":".1%","ticks":false,"labelPadding":10,"titlePadding":15}},
              "y":{"field":"y","type":"quantitative","scale":{"domain":[0.04,0.12]},"axis":null}},
  "layer":[
   {"data":{"name":"top"},"transform":[{"filter":"datum.p=='E'"}],"mark":{"type":"circle","size":42,"color":"#595959","opacity":1}},
   {"data":{"name":"trend"},"transform":[{"filter":"datum.p=='E'"}],"mark":{"type":"rule","color":"#595959","strokeWidth":1.6,"strokeDash":[2,2]},"encoding":{"x2":{"field":"x2"},"y2":{"field":"y2"}}},
   {"data":{"values":[{}]},"mark":{"type":"text","font":"Lato","fontSize":15,"fontWeight":"bold","align":"left","baseline":"middle","color":"#000"},"encoding":{"x":{"datum":0.305,"type":"quantitative","title":"Torque (% of MVT)"},"y":{"datum":0.1169,"type":"quantitative","axis":null},"text":{"value":"E"}}},
   {"data":{"values":[{}]},"mark":{"type":"text","font":"Lato","fontSize":10,"fontStyle":"italic","align":"right","baseline":"middle","color":"#333"},"encoding":{"x":{"datum":0.685,"type":"quantitative","title":"Torque (% of MVT)"},"y":{"datum":0.0488,"type":"quantitative","axis":null},"text":{"value":"r = 0.13 p = 0.67"}}}
  ]},
 {"width":36,"height":109,"data":{"values":[{}]},"mark":{"type":"point","size":0,"opacity":0},"encoding":{}},
 {"width":138,"height":109,
  "encoding":{"x":{"field":"x","type":"quantitative","scale":{"domain":[0.5,0.9]},"title":"Torque (% of MVT)","axis":{"values":[0.5,0.7,0.9],"format":".1%","ticks":false,"labelPadding":10,"titlePadding":15}},
              "y":{"field":"y","type":"quantitative","scale":{"domain":[0.04,0.12]},"axis":null}},
  "layer":[
   {"data":{"name":"top"},"transform":[{"filter":"datum.p=='F'"}],"mark":{"type":"circle","size":42,"color":"#595959","opacity":1}},
   {"data":{"name":"trend"},"transform":[{"filter":"datum.p=='F'"}],"mark":{"type":"rule","color":"#595959","strokeWidth":1.6,"strokeDash":[2,2]},"encoding":{"x2":{"field":"x2"},"y2":{"field":"y2"}}},
   {"data":{"values":[{}]},"mark":{"type":"text","font":"Lato","fontSize":15,"fontWeight":"bold","align":"left","baseline":"middle","color":"#000"},"encoding":{"x":{"datum":0.486,"type":"quantitative","title":"Torque (% of MVT)"},"y":{"datum":0.1169,"type":"quantitative","axis":null},"text":{"value":"F"}}},
   {"data":{"values":[{}]},"mark":{"type":"text","font":"Lato","fontSize":10,"fontStyle":"italic","align":"right","baseline":"middle","color":"#333"},"encoding":{"x":{"datum":0.860,"type":"quantitative","title":"Torque (% of MVT)"},"y":{"datum":0.0497,"type":"quantitative","axis":null},"text":{"value":"r = 0.07 p = 0.83"}}}
  ]}
 ]}
 ]},
 {"spacing":0,"bounds":"flush",
  "hconcat":[
 {"width":49,"height":173,"data":{"values":[{}]},"mark":{"type":"point","size":0,"opacity":0},"encoding":{}},
 {"width":140,"height":173,
  "encoding":{"x":{"field":"x","type":"quantitative","scale":{"domain":[0,40]},"axis":{"title":null,"values":[0,10,20,30,40],"labelFontSize":11}},
              "y":{"field":"y","type":"quantitative","scale":{"domain":[0,3]},"title":"MEP (mV)","axis":{"values":[0,0.5,1,1.5,2,2.5,3],"format":"~g","labelFontSize":11,"titleFontSize":12,"labelPadding":8,"titlePadding":2}}},
  "layer":[
   {"data":{"name":"G"},"mark":{"type":"point","shape":"M0,-1L0.3,-0.3L1,0L0.3,0.3L0,1L-0.3,0.3L-1,0L-0.3,-0.3Z","filled":true,"size":24,"opacity":0.85},
    "encoding":{"color":{"field":"i","type":"nominal","scale":{"domain":[1,2,3,4,5,6,7,8,9,10,11,12,13,14],"range":["#4A7023","#F2C14E","#F3D58A","#3D6B26","#7E9F45","#A0582A","#7A4B16","#DDAA8C","#F5C342","#A48D43","#E8A22E","#C86F22","#A7C47D","#EFC29B"]},"legend":null}}},
   {"data":{"name":"LG"},"mark":{"type":"rule","strokeWidth":2.6,"opacity":0.9},"encoding":{"x2":{"field":"x2"},"y2":{"field":"y2"},"color":{"field":"i","type":"nominal","legend":null}}},
   {"data":{"name":"notes"},"transform":[{"filter":"datum.p=='G' && datum.k=='L'"}],"mark":{"type":"text","font":"Lato","fontSize":16,"fontWeight":"bold","align":"left","baseline":"middle","color":"#000"},"encoding":{"text":{"field":"t"}}},
   {"data":{"name":"notes"},"transform":[{"filter":"datum.p=='G' && datum.k=='R'"}],"mark":{"type":"text","font":"Lato","fontSize":9,"fontWeight":"bold","fontStyle":"italic","align":"right","baseline":"middle","color":"#000"},"encoding":{"text":{"field":"t"}}}
  ]},
 {"width":59,"height":173,"data":{"values":[{}]},"mark":{"type":"point","size":0,"opacity":0},"encoding":{}},
 {"width":147,"height":173,
  "encoding":{"x":{"field":"x","type":"quantitative","scale":{"domain":[0,40]},"axis":{"title":null,"values":[0,10,20,30,40],"labelFontSize":11}},
              "y":{"field":"y","type":"quantitative","scale":{"domain":[0,600]},"title":"MEP:EMG","axis":{"values":[0,200,400,600],"format":"d","labelFontSize":11,"titleFontSize":12,"labelPadding":1,"titlePadding":0}}},
  "layer":[
   {"data":{"name":"H"},"mark":{"type":"point","shape":"M0,-1L0.3,-0.3L1,0L0.3,0.3L0,1L-0.3,0.3L-1,0L-0.3,-0.3Z","filled":true,"size":24,"opacity":0.85},
    "encoding":{"color":{"field":"i","type":"nominal","scale":{"domain":[1,2,3,4,5,6,7,8,9,10,11,12,13,14],"range":["#4A7023","#F2C14E","#F3D58A","#3D6B26","#7E9F45","#A0582A","#7A4B16","#DDAA8C","#F5C342","#A48D43","#E8A22E","#C86F22","#A7C47D","#EFC29B"]},"legend":null}}},
   {"data":{"name":"LH"},"mark":{"type":"rule","strokeWidth":2.6,"opacity":0.9},"encoding":{"x2":{"field":"x2"},"y2":{"field":"y2"},"color":{"field":"i","type":"nominal","legend":null}}},
   {"data":{"name":"notes"},"transform":[{"filter":"datum.p=='H' && datum.k=='L'"}],"mark":{"type":"text","font":"Lato","fontSize":16,"fontWeight":"bold","align":"left","baseline":"middle","color":"#000"},"encoding":{"text":{"field":"t"}}},
   {"data":{"name":"notes"},"transform":[{"filter":"datum.p=='H' && datum.k=='R'"}],"mark":{"type":"text","font":"Lato","fontSize":9,"fontStyle":"italic","align":"right","baseline":"middle","color":"#000"},"encoding":{"text":{"field":"t"}}}
  ]},
 {"width":67,"height":173,"data":{"values":[{}]},"mark":{"type":"point","size":0,"opacity":0},"encoding":{}},
 {"width":137,"height":173,
  "encoding":{"x":{"field":"x","type":"quantitative","scale":{"domain":[0,40]},"axis":{"title":null,"values":[0,10,20,30,40],"labelFontSize":11}},
              "y":{"field":"y","type":"quantitative","scale":{"domain":[0,0.25]},"title":"SP duration","axis":{"values":[0,0.05,0.1,0.15,0.2,0.25],"format":"~g","labelFontSize":11,"titleFontSize":12,"labelPadding":8,"titlePadding":2}}},
  "layer":[
   {"data":{"name":"I"},"mark":{"type":"point","shape":"M0,-1L0.3,-0.3L1,0L0.3,0.3L0,1L-0.3,0.3L-1,0L-0.3,-0.3Z","filled":true,"size":24,"opacity":0.85},
    "encoding":{"color":{"field":"i","type":"nominal","scale":{"domain":[1,2,3,4,5,6,7,8,9,10,11,12,13,14],"range":["#4A7023","#F2C14E","#F3D58A","#3D6B26","#7E9F45","#A0582A","#7A4B16","#DDAA8C","#F5C342","#A48D43","#E8A22E","#C86F22","#A7C47D","#EFC29B"]},"legend":null}}},
   {"data":{"name":"LI"},"mark":{"type":"rule","strokeWidth":2.6,"opacity":0.9},"encoding":{"x2":{"field":"x2"},"y2":{"field":"y2"},"color":{"field":"i","type":"nominal","legend":null}}},
   {"data":{"name":"notes"},"transform":[{"filter":"datum.p=='I' && datum.k=='L'"}],"mark":{"type":"text","font":"Lato","fontSize":16,"fontWeight":"bold","align":"left","baseline":"middle","color":"#000"},"encoding":{"text":{"field":"t"}}},
   {"data":{"name":"notes"},"transform":[{"filter":"datum.p=='I' && datum.k=='R'"}],"mark":{"type":"text","font":"Lato","fontSize":9,"fontStyle":"italic","align":"right","baseline":"middle","color":"#000"},"encoding":{"text":{"field":"t"}}}
  ]}
 ]}
],
"config":{
"view":{"stroke":null},
"axis":{"domainColor":"#000","tickColor":"#000","labelColor":"#333","titleColor":"#333","labelFont":"Lato","titleFont":"Lato","titleFontWeight":"normal","grid":false,"tickSize":4,"labelPadding":2,"labelFontSize":9.5,"titleFontSize":10}
}
}
